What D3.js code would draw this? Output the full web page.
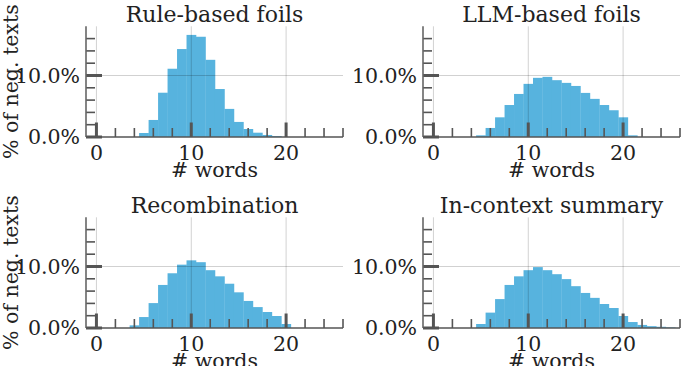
<!DOCTYPE html>
<html><head><meta charset="utf-8">
<script src="https://cdn.jsdelivr.net/npm/d3@7/dist/d3.min.js"></script>
<style>body{margin:0;background:#fff}svg{display:block}</style>
</head><body>
<script>
// ---- data ----
const titles = ["Rule-based foils", "LLM-based foils", "Recombination", "In-context summary"];
const firstBin = [5, 5, 4, 5];
const ruleBased = [0.65, 2.77, 7.2, 11.1, 14.3, 16.6, 16.3, 12.55, 7.8, 4.57, 2.45, 1.3, 0.7, 0.33, 0.15];
const llmBased = [0.27, 1.47, 3.2, 5.2, 7.0, 8.64, 9.62, 9.78, 9.24, 8.8, 8.3, 7.17, 6.2, 5.2, 4.35, 3.2, 0.27];
const recombination = [0.43, 1.78, 4.05, 7.0, 8.9, 10.3, 11.0, 10.7, 9.4, 8.4, 7.2, 5.8, 4.4, 3.4, 2.6, 1.95, 0.65];
const inContext = [0.65, 2.5, 4.7, 7.0, 8.4, 9.4, 9.9, 9.4, 8.75, 7.95, 6.8, 5.7, 4.9, 3.9, 3.25, 1.95, 0.97, 0.5, 0.3, 0.2, 0.1];
const series = [ruleBased, llmBased, recombination, inContext];
const xMajorTicks = [0, 10, 20];
const xMinorTicks = [2, 4, 6, 8, 12, 14, 16, 18, 22, 24, 26];
const yMajorTicks = [0, 10];
const yMinorTicks = [2, 4, 6, 8, 12, 14, 16];
const yTickLabel = v => v.toFixed(1) + "%";
const xLabel = "# words";
const yLabel = "% of neg. texts";

// ---- layout ----
const W = 681, H = 366;
const colLeft = [86, 423];
const rowBase = [137, 328];
const plotW = 257, plotH = 110.7;
const barColor = "#57b3de";
const tickColor = "#555";
const font = "DejaVu Serif, serif";
const fs = 20.5;

const svg = d3.select("body").append("svg").attr("width", W).attr("height", H);

series.forEach((vals, i) => {
  const col = i % 2, row = Math.floor(i / 2);
  const left = colLeft[col], base = rowBase[row];
  const x = d3.scaleLinear().domain([-1.1, 26]).range([left, left + plotW]);
  const y = d3.scaleLinear().domain([0, 18]).range([base, base - plotH]);
  const g = svg.append("g");
  const data = vals.map((v, k) => ({bin: firstBin[i] + k, v}));

  // bars
  g.selectAll("rect.bar").data(data).enter().append("rect")
    .attr("x", d => x(d.bin - 0.5))
    .attr("width", d => x(d.bin + 0.5) - x(d.bin - 0.5) + 0.3)
    .attr("y", d => y(d.v))
    .attr("height", d => y(0) - y(d.v))
    .attr("fill", barColor);

  // gridlines
  g.selectAll("line.vg").data(xMajorTicks).enter().append("line")
    .attr("x1", d => x(d)).attr("x2", d => x(d))
    .attr("y1", y(0)).attr("y2", y(18))
    .attr("stroke", "#000").attr("stroke-opacity", 0.18).attr("stroke-width", 1);
  g.selectAll("line.hg").data([10]).enter().append("line")
    .attr("x1", x(-1.1)).attr("x2", x(26))
    .attr("y1", d => y(d)).attr("y2", d => y(d))
    .attr("stroke", "#000").attr("stroke-opacity", 0.18).attr("stroke-width", 1);

  // x ticks (inside)
  g.selectAll("line.xmin").data(xMinorTicks).enter().append("line")
    .attr("x1", d => x(d)).attr("x2", d => x(d))
    .attr("y1", base).attr("y2", base - 9)
    .attr("stroke", tickColor).attr("stroke-width", 1.6);
  g.selectAll("line.xmaj").data(xMajorTicks).enter().append("line")
    .attr("x1", d => x(d)).attr("x2", d => x(d))
    .attr("y1", base).attr("y2", base - 14.5)
    .attr("stroke", tickColor).attr("stroke-width", 3);

  // y ticks (inside)
  g.selectAll("line.ymin").data(yMinorTicks).enter().append("line")
    .attr("x1", left).attr("x2", left + 9)
    .attr("y1", d => y(d)).attr("y2", d => y(d))
    .attr("stroke", tickColor).attr("stroke-width", 1.6);
  g.selectAll("line.ymaj").data(yMajorTicks).enter().append("line")
    .attr("x1", left).attr("x2", left + 16)
    .attr("y1", d => y(d)).attr("y2", d => y(d))
    .attr("stroke", tickColor).attr("stroke-width", 3);

  // spines
  g.append("line").attr("x1", left).attr("x2", left)
    .attr("y1", y(0)).attr("y2", y(18))
    .attr("stroke", "#666").attr("stroke-width", 1.6);
  g.append("line").attr("x1", left).attr("x2", x(26))
    .attr("y1", y(0)).attr("y2", y(0))
    .attr("stroke", tickColor).attr("stroke-width", 1.6);

  // tick labels
  g.selectAll("text.yl").data(yMajorTicks).enter().append("text")
    .attr("x", left - 6).attr("y", d => y(d)).attr("dy", "0.36em")
    .attr("text-anchor", "end").attr("font-family", font).attr("font-size", fs)
    .attr("fill", "#222").text(yTickLabel);
  g.selectAll("text.xl").data(xMajorTicks).enter().append("text")
    .attr("x", d => x(d)).attr("y", base + 23)
    .attr("text-anchor", "middle").attr("font-family", font).attr("font-size", fs)
    .attr("fill", "#222").text(d => d);

  // axis labels
  g.append("text").attr("x", left + plotW / 2).attr("y", base + 40)
    .attr("text-anchor", "middle").attr("font-family", font).attr("font-size", fs)
    .attr("fill", "#222").text(xLabel);
  if (col === 0) {
    g.append("text")
      .attr("transform", `translate(${18},${base - plotH / 2}) rotate(-90)`)
      .attr("text-anchor", "middle").attr("font-family", font).attr("font-size", fs)
      .attr("fill", "#222").text(yLabel);
  }
  // title
  g.append("text").attr("x", left + plotW / 2).attr("y", base - 115)
    .attr("text-anchor", "middle").attr("font-family", font).attr("font-size", 22)
    .attr("fill", "#222").text(titles[i]);
});
</script>
</body></html>
